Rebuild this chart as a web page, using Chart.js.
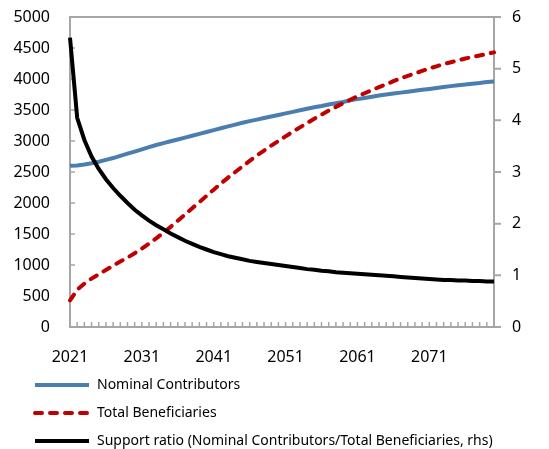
<!DOCTYPE html>
<html>
<head>
<meta charset="utf-8">
<script src="https://cdn.jsdelivr.net/npm/chart.js@4.4.0/dist/chart.umd.min.js"></script>
<style>
  body { margin: 0; background: #fff; }
  #wrap { width: 549px; height: 449px; }
</style>
</head>
<body>
<div id="wrap"><canvas id="chart" width="549" height="449"></canvas></div>
<script>
        const years = [
            2021, 2022, 2023, 2024, 2025, 2026, 2027, 2028, 2029, 2030,
            2031, 2032, 2033, 2034, 2035, 2036, 2037, 2038, 2039, 2040,
            2041, 2042, 2043, 2044, 2045, 2046, 2047, 2048, 2049, 2050,
            2051, 2052, 2053, 2054, 2055, 2056, 2057, 2058, 2059, 2060,
            2061, 2062, 2063, 2064, 2065, 2066, 2067, 2068, 2069, 2070,
            2071, 2072, 2073, 2074, 2075, 2076, 2077, 2078, 2079, 2080
        ];
        const xTickLabels = ['2021', '2031', '2041', '2051', '2061', '2071'];

        const contributors = [
            2600, 2605, 2620, 2640, 2665, 2695, 2725, 2760, 2795, 2830,
            2865, 2900, 2935, 2965, 2995, 3025, 3055, 3085, 3115, 3145,
            3175, 3205, 3235, 3265, 3295, 3320, 3345, 3370, 3395, 3420,
            3445, 3470, 3495, 3520, 3545, 3565, 3590, 3610, 3630, 3655,
            3675, 3695, 3715, 3735, 3750, 3765, 3780, 3795, 3810, 3825,
            3840, 3855, 3870, 3885, 3900, 3910, 3925, 3935, 3950, 3960
        ];
        const beneficiaries = [
            430, 600, 700, 780, 850, 920, 990, 1055, 1120, 1190,
            1265, 1345, 1430, 1520, 1615, 1715, 1815, 1915, 2015, 2115,
            2215, 2315, 2410, 2500, 2590, 2680, 2765, 2845, 2925, 3000,
            3075, 3150, 3220, 3290, 3360, 3425, 3490, 3550, 3610, 3665,
            3720, 3770, 3820, 3870, 3915, 3965, 4010, 4050, 4090, 4130,
            4170, 4205, 4240, 4270, 4300, 4330, 4355, 4380, 4405, 4430
        ];
        const supportRatio = [
            5.6, 4.05, 3.62, 3.3, 3.06, 2.86, 2.69, 2.54, 2.40, 2.27,
            2.16, 2.06, 1.97, 1.89, 1.81, 1.74, 1.67, 1.61, 1.55, 1.50,
            1.45, 1.41, 1.37, 1.34, 1.31, 1.28, 1.26, 1.24, 1.22, 1.20,
            1.18, 1.16, 1.14, 1.12, 1.11, 1.09, 1.08, 1.06, 1.05, 1.04,
            1.03, 1.02, 1.01, 1.00, 0.99, 0.98, 0.97, 0.96, 0.95, 0.94,
            0.93, 0.92, 0.91, 0.91, 0.90, 0.90, 0.89, 0.89, 0.88, 0.88
        ];

        const leftAxis = { min: 0, max: 5000, step: 500 };
        const rightAxis = { min: 0, max: 6, step: 1 };

        const axisGrey = '#a6a6a6';
        const clear = 'rgba(0,0,0,0)';
        Chart.defaults.font.family = '"Noto Sans", sans-serif';
        Chart.defaults.color = '#000';

        // top border + little tick marks (inward on left/bottom, outward on right)
        const axisDecor = {
            id: 'axisDecor',
            beforeDatasetsDraw(chart) {
                const { ctx, chartArea: a, scales } = chart;
                ctx.save();
                ctx.strokeStyle = axisGrey;
                ctx.lineWidth = 2;
                ctx.beginPath();
                ctx.moveTo(a.left - 1, a.top);
                ctx.lineTo(a.right + 1, a.top);
                for (let v = rightAxis.min; v <= rightAxis.max; v += rightAxis.step) {
                    const py = scales.y1.getPixelForValue(v);
                    ctx.moveTo(a.right, py);
                    ctx.lineTo(a.right + 7, py);
                }
                ctx.stroke();

                ctx.lineWidth = 1.5;
                ctx.beginPath();
                years.forEach((yr, i) => {
                    const px = scales.x.getPixelForValue(i);
                    ctx.moveTo(px, a.bottom);
                    ctx.lineTo(px, a.bottom - 5);
                });
                for (let v = leftAxis.min; v <= leftAxis.max; v += leftAxis.step) {
                    const py = scales.y.getPixelForValue(v);
                    ctx.moveTo(a.left, py);
                    ctx.lineTo(a.left + 5, py);
                }
                ctx.stroke();
                ctx.restore();
            }
        };

        // legend, one item per row under the chart
        const rowLegend = {
            id: 'rowLegend',
            afterDraw(chart) {
                const { ctx } = chart;
                const rowY = [385, 413, 441];
                ctx.save();
                ctx.font = '14px "Noto Sans", sans-serif';
                ctx.textBaseline = 'middle';
                chart.data.datasets.forEach((ds, i) => {
                    const y = rowY[i];
                    ctx.strokeStyle = ds.borderColor;
                    ctx.lineWidth = ds.borderWidth;
                    ctx.lineCap = ds.borderCapStyle || 'butt';
                    ctx.setLineDash(ds.borderDash || []);
                    ctx.beginPath();
                    ctx.moveTo(35, y);
                    ctx.lineTo(89, y);
                    ctx.stroke();
                    ctx.setLineDash([]);
                    ctx.fillStyle = '#000';
                    ctx.fillText(ds.label, 97, y);
                });
                ctx.restore();
            }
        };

        const ctx = document.getElementById('chart').getContext('2d');
        const chart = new Chart(ctx, {
            type: 'line',
            data: {
                labels: years,
                datasets: [{
                    label: 'Nominal Contributors',
                    data: contributors,
                    borderColor: '#4a7eb0',
                    borderWidth: 4,
                    yAxisID: 'y',
                    order: 2
                }, {
                    label: 'Total Beneficiaries',
                    data: beneficiaries,
                    borderColor: '#c00000',
                    borderWidth: 4,
                    borderDash: [7, 8],
                    borderCapStyle: 'round',
                    yAxisID: 'y',
                    order: 1
                }, {
                    label: 'Support ratio (Nominal Contributors/Total Beneficiaries, rhs)',
                    data: supportRatio,
                    borderColor: '#000000',
                    borderWidth: 4,
                    yAxisID: 'y1',
                    order: 0
                }]
            },
            options: {
                responsive: false,
                animation: false,
                layout: {
                    padding: { top: 17, bottom: 82, left: 0, right: 0 }
                },
                elements: {
                    point: { radius: 0 },
                    line: { tension: 0 }
                },
                plugins: {
                    legend: { display: false },
                    tooltip: { enabled: false }
                },
                scales: {
                    x: {
                        afterFit(s) { s.height = 40; },
                        grid: { display: false, drawTicks: false },
                        border: { display: true, color: axisGrey, width: 2 },
                        ticks: {
                            autoSkip: false,
                            maxRotation: 0,
                            padding: 21,
                            font: { size: 16 },
                            callback(value) {
                                const lbl = String(this.getLabelForValue(value));
                                return xTickLabels.includes(lbl) ? lbl : '';
                            }
                        }
                    },
                    y: {
                        position: 'left',
                        min: leftAxis.min,
                        max: leftAxis.max,
                        afterFit(s) { s.width = 70; },
                        grid: { display: true, drawOnChartArea: false, drawTicks: true, tickLength: 14, color: clear },
                        border: { display: true, color: axisGrey, width: 2 },
                        ticks: {
                            stepSize: leftAxis.step,
                            padding: 6,
                            font: { size: 16 },
                            callback: v => String(v)
                        }
                    },
                    y1: {
                        position: 'right',
                        min: rightAxis.min,
                        max: rightAxis.max,
                        afterFit(s) { s.width = 55; },
                        grid: { display: true, drawOnChartArea: false, drawTicks: true, tickLength: 18, color: clear },
                        border: { display: true, color: axisGrey, width: 2 },
                        ticks: {
                            stepSize: rightAxis.step,
                            padding: 0,
                            font: { size: 16 },
                            callback: v => String(v)
                        }
                    }
                }
            },
            plugins: [axisDecor, rowLegend]
        });
</script>
</body>
</html>
